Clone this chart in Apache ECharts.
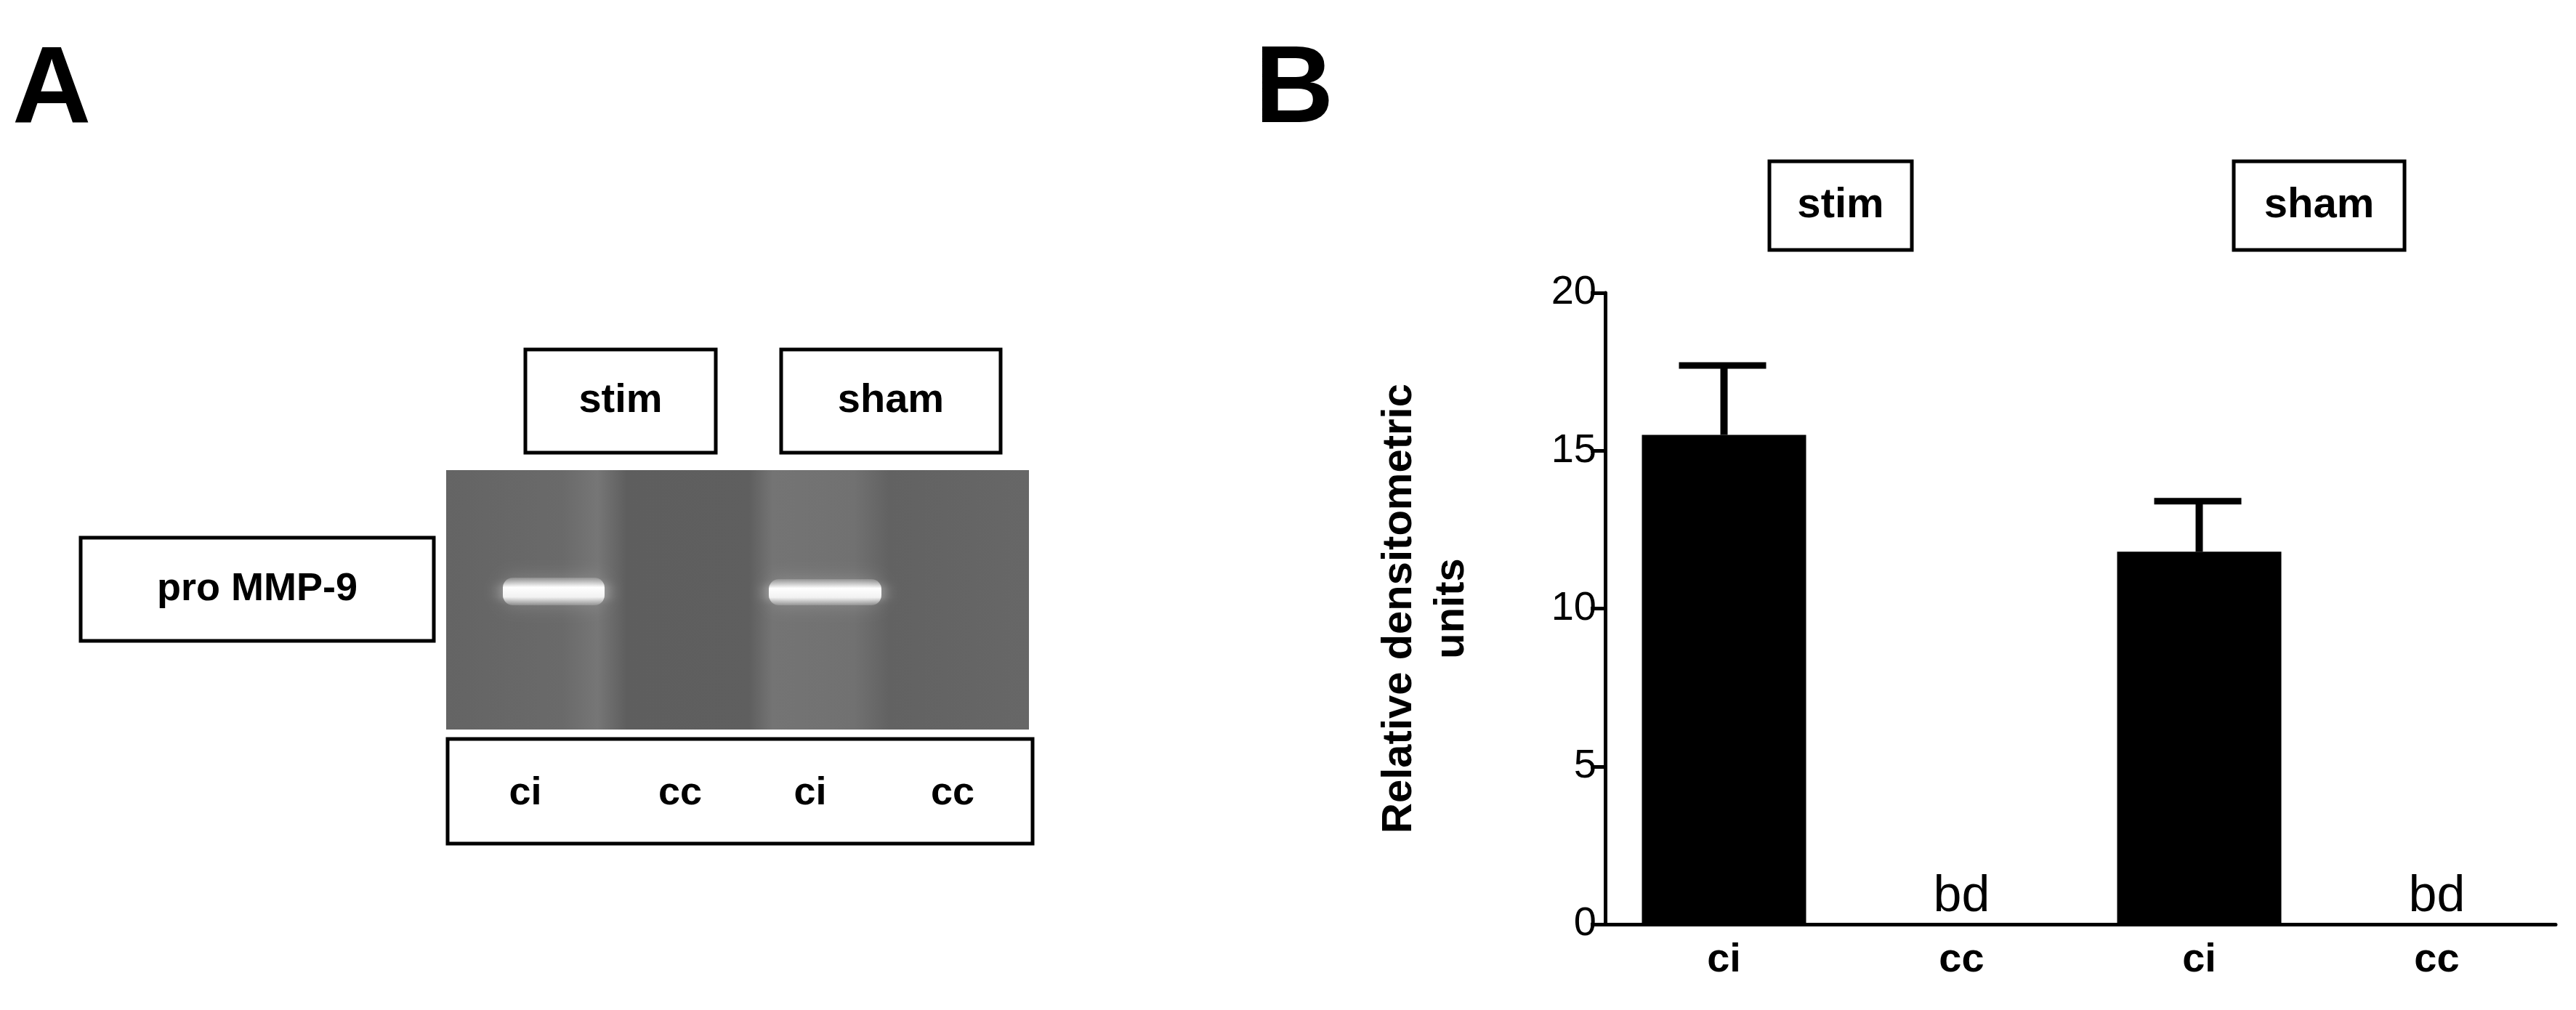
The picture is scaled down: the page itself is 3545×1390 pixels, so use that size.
<!DOCTYPE html>
<html>
<head>
<meta charset="utf-8">
<script src="https://cdn.jsdelivr.net/npm/echarts@6/dist/echarts.min.js"></script>
<style>html,body{margin:0;padding:0;background:#fff}#main{width:3545px;height:1390px}</style>
</head>
<body>
<div id="main"></div>
<script>
// data for panel B
var categories = ['ci', 'cc', 'ci', 'cc']
var means = [15.5, 0, 11.8, 0]
var upper = [17.7, 0, 13.4, 0]
var pointLabels = ['', 'bd', '', 'bd']
var yTicks = [0, 5, 10, 15, 20]
// panel A lanes
var laneLabels = ['ci', 'cc', 'ci', 'cc']

var font = '"Liberation Sans", Arial, sans-serif'
var chart = echarts.init(document.getElementById('main'))

function box(x, y, w, h, text, size) {
    return {
        type: 'group',
        children: [
            { type: 'rect', shape: { x: x, y: y, width: w, height: h }, style: { fill: '#fff', stroke: '#000', lineWidth: 5 } },
            { type: 'text', x: x + w / 2, y: y + h / 2, style: { text: text, font: 'bold ' + size + 'px ' + font, fill: '#000', align: 'center', verticalAlign: 'middle' } }
        ]
    }
}

function band(x, y, w, h) {
    return {
        type: 'rect', shape: { x: x, y: y, width: w, height: h, r: 14 },
        style: {
            fill: new echarts.graphic.LinearGradient(0, 0, 0, 1, [
                { offset: 0, color: 'rgba(200,200,200,0.3)' },
                { offset: 0.35, color: '#ffffff' },
                { offset: 0.7, color: '#f2f2f2' },
                { offset: 1, color: 'rgba(200,200,200,0.3)' }
            ]),
            shadowBlur: 25, shadowColor: 'rgba(255,255,255,0.6)'
        }
    }
}

var gelX = 614, gelY = 647, gelW = 802, gelH = 357
var graphics = [
    { type: 'text', x: 17, y: 52, style: { text: 'A', font: 'bold 150px ' + font, fill: '#000' } },
    { type: 'text', x: 1727, y: 52, style: { text: 'B', font: 'bold 150px ' + font, fill: '#000' } },
    box(723, 481, 262, 142, 'stim', 56),
    box(1075, 481, 302, 142, 'sham', 56),
    box(111, 740, 486, 142, 'pro MMP-9', 54),
    {
        type: 'rect', shape: { x: gelX, y: gelY, width: gelW, height: gelH },
        style: {
            fill: new echarts.graphic.LinearGradient(0, 0, 1, 0, [
                { offset: 0, color: '#646464' },
                { offset: 0.2, color: '#6a6a6a' },
                { offset: 0.26, color: '#767676' },
                { offset: 0.31, color: '#5e5e5e' },
                { offset: 0.52, color: '#5f5f5f' },
                { offset: 0.56, color: '#747474' },
                { offset: 0.7, color: '#717171' },
                { offset: 0.76, color: '#626262' },
                { offset: 1, color: '#676767' }
            ])
        }
    },
    band(692, 795, 140, 38),
    band(1058, 797, 155, 36),
    {
        type: 'group',
        children: [
            { type: 'rect', shape: { x: 616, y: 1017, width: 805, height: 144 }, style: { fill: '#fff', stroke: '#000', lineWidth: 5 } }
        ].concat(laneLabels.map(function (t, i) {
            var xs = [723, 936, 1115, 1311]
            return { type: 'text', x: xs[i], y: 1092, style: { text: t, font: 'bold 54px ' + font, fill: '#000', align: 'center', verticalAlign: 'middle' } }
        }))
    },
    box(2435, 222, 196, 122, 'stim', 58),
    box(3074, 222, 235, 122, 'sham', 58)
]

var option = {
    animation: false,
    backgroundColor: '#fff',
    graphic: graphics,
    grid: { left: 2209, right: 28, top: 403, bottom: 118 },
    xAxis: {
        type: 'category',
        data: categories,
        axisLine: { lineStyle: { color: '#000', width: 5 } },
        axisTick: { alignWithLabel: true, length: 20, lineStyle: { color: '#000', width: 5 } },
        axisLabel: { color: '#000', fontFamily: font, fontWeight: 'bold', fontSize: 56, margin: 22 }
    },
    yAxis: {
        type: 'value',
        min: yTicks[0], max: yTicks[yTicks.length - 1], interval: 5,
        name: 'Relative densitometric\nunits',
        nameLocation: 'middle', nameGap: 175,
        nameTextStyle: { color: '#000', fontFamily: font, fontWeight: 'bold', fontSize: 58, lineHeight: 72 },
        axisLine: { show: true, lineStyle: { color: '#000', width: 5 } },
        axisTick: { show: true, length: 20, lineStyle: { color: '#000', width: 5 } },
        axisLabel: { color: '#000', fontFamily: font, fontSize: 56, margin: 12 },
        splitLine: { show: false }
    },
    series: [
        {
            type: 'bar',
            data: means.map(function (v, i) {
                return {
                    value: v,
                    label: { show: !!pointLabels[i], formatter: pointLabels[i], position: 'top', distance: 2, color: '#000', fontFamily: font, fontSize: 70 }
                }
            }),
            barWidth: 226,
            itemStyle: { color: '#000' }
        },
        {
            type: 'custom',
            data: upper.map(function (u, i) { return [i, means[i], u] }),
            renderItem: function (params, api) {
                if (api.value(2) <= api.value(1)) return
                var top = api.coord([api.value(0), api.value(2)])
                var base = api.coord([api.value(0), api.value(1)])
                return {
                    type: 'group',
                    children: [
                        { type: 'line', shape: { x1: top[0], y1: top[1], x2: base[0], y2: base[1] }, style: { stroke: '#000', lineWidth: 10 } },
                        { type: 'line', shape: { x1: top[0] - 62, y1: top[1], x2: top[0] + 58, y2: top[1] }, style: { stroke: '#000', lineWidth: 9 } }
                    ]
                }
            },
            z: 3
        }
    ]
}
chart.setOption(option)
</script>
</body>
</html>
